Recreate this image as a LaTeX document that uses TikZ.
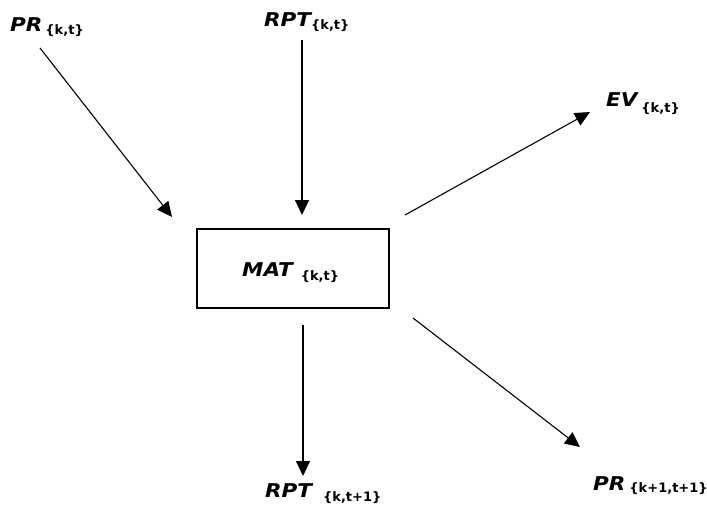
\documentclass[tikz,border=0pt]{standalone}
\usepackage{fontspec}
\setmainfont{DejaVu Sans}
\usetikzlibrary{arrows.meta}
\newcommand{\mainlbl}[1]{\scalebox{1.13}[1]{\fontsize{19}{19}\selectfont\bfseries\itshape #1}}
\newcommand{\sublbl}[1]{{\fontsize{13}{13}\selectfont\bfseries #1}}
\tikzset{
  lbl/.style={inner sep=0pt, anchor=base west},
  flow/.style={line width=1.1pt, -{Triangle[length=15pt,width=14pt]}},
  matbox/.style={draw, line width=1.1pt, minimum width=192pt, minimum height=79pt, inner sep=0pt}
}
\begin{document}
\begin{tikzpicture}[x=1pt,y=-1pt]
\useasboundingbox[fill=white] (0,0) rectangle (707,504);

% process box
\node[matbox] (mat) at (293,268.5) {};
\node[lbl] (matlbl) at (242,276) {\mainlbl{MAT}\hspace{8pt}\raisebox{-4pt}{\sublbl{\{k,t\}}}};

% labels
\node[lbl] (pr) at (10,31) {\mainlbl{PR}\hspace{3pt}\raisebox{-3pt}{\sublbl{\{k,t\}}}};
\node[lbl] (rpt) at (264,26) {\mainlbl{RPT}\raisebox{-3pt}{\sublbl{\{k,t\}}}};
\node[lbl] (ev) at (606,106) {\mainlbl{EV}\hspace{4pt}\raisebox{-6pt}{\sublbl{\{k,t\}}}};
\node[lbl] (rptn) at (265,497) {\mainlbl{RPT}\hspace{11pt}\raisebox{-4pt}{\sublbl{\{k,t+1\}}}};
\node[lbl] (prn) at (593,490) {\mainlbl{PR}\hspace{4pt}\raisebox{-2pt}{\sublbl{\{k+1,t+1\}}}};

% connector end points
\coordinate (a1s) at (40,48);   \coordinate (a1e) at (172,217);
\coordinate (a2s) at (302,40);  \coordinate (a2e) at (302,215);
\coordinate (a3s) at (405,215); \coordinate (a3e) at (590,112);
\coordinate (a4s) at (303,325); \coordinate (a4e) at (303,476);
\coordinate (a5s) at (413,318); \coordinate (a5e) at (580,447);

\draw[flow] (a1s) -- (a1e);
\draw[flow] (a2s) -- (a2e);
\draw[flow] (a3s) -- (a3e);
\draw[flow] (a4s) -- (a4e);
\draw[flow] (a5s) -- (a5e);
\end{tikzpicture}
\end{document}
